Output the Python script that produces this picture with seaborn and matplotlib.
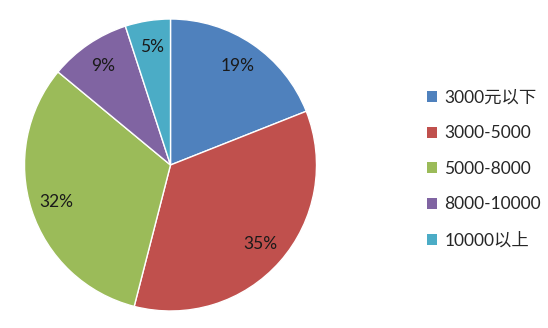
import matplotlib
matplotlib.use("Agg")
import matplotlib.pyplot as plt
import seaborn as sns
from matplotlib.patches import Patch

categories = ["3000元以下", "3000-5000", "5000-8000", "8000-10000", "10000以上"]
values = [19, 35, 32, 9, 5]
colors_hex = ["#4F81BD", "#C0504D", "#9BBB59", "#8064A2", "#4BACC6"]

sns.set_theme(style="white")
plt.rcParams['font.family'] = ['Lato', 'Noto Sans CJK SC', 'DejaVu Sans']
palette = sns.color_palette(colors_hex)

fig = plt.figure(figsize=(5.48, 3.28), dpi=100)
fig.patch.set_facecolor("white")
ax = fig.add_axes([24 / 548, (328 - 311) / 328, 293 / 548, 292 / 328])
wedges, texts, autotexts = ax.pie(
    values, colors=palette, startangle=90, counterclock=False,
    autopct=lambda p: f"{p:.0f}%", pctdistance=0.82,
    wedgeprops=dict(edgecolor="white", linewidth=1.0),
    textprops=dict(fontsize=12.5, color="#1a1a1a"),
    radius=1.0,
)
ax.set_xlim(-1.0, 1.0)
ax.set_ylim(-1.0, 1.0)
ax.set_aspect("equal")
ax.axis("off")

handles = [Patch(facecolor=c, edgecolor="none") for c in palette]
fig.legend(handles, categories, loc="upper left",
           bbox_to_anchor=(427 / 548, 1 - 90 / 328),
           frameon=False, fontsize=12.5,
           handlelength=0.6, handleheight=0.6, handletextpad=0.4,
           labelspacing=1.12, borderpad=0, borderaxespad=0)

fig.savefig("out.png", dpi=100, facecolor="white")
